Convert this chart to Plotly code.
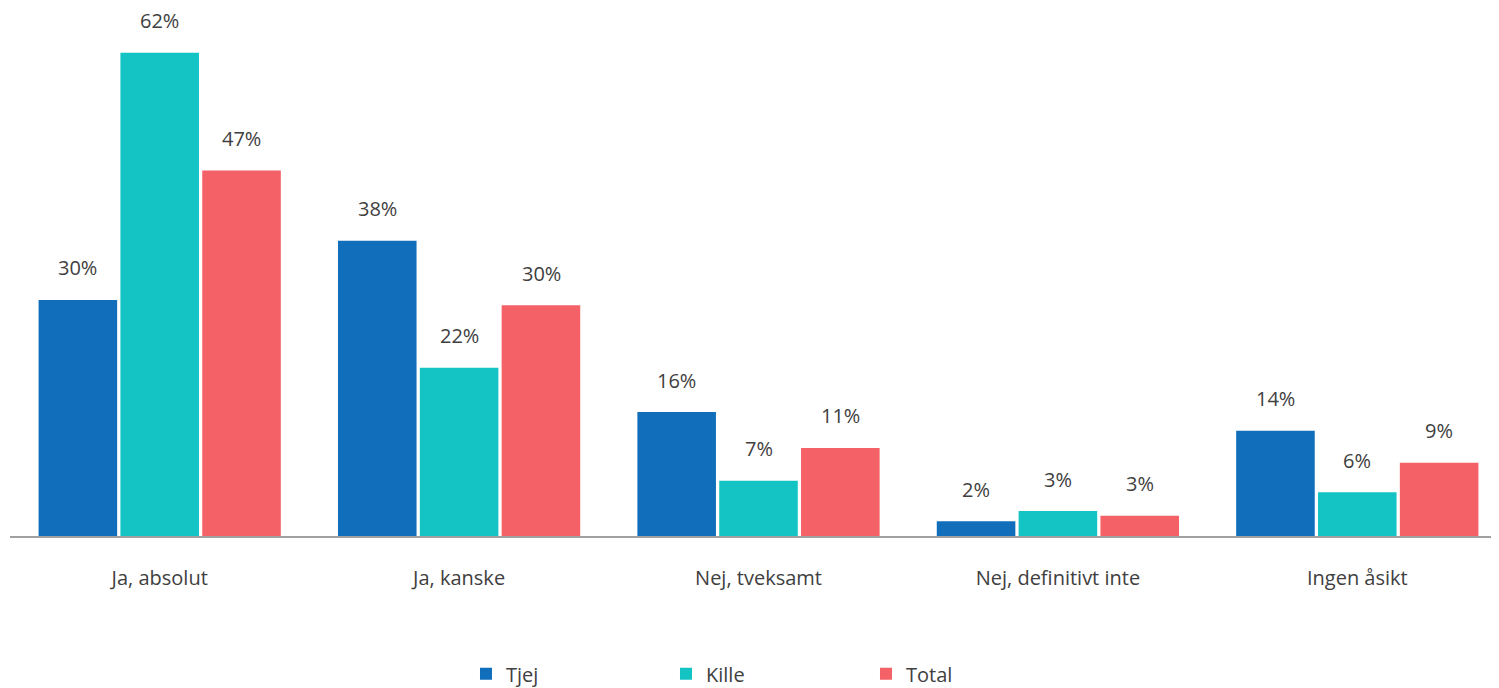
import plotly.graph_objects as go

categories = ["Ja, absolut", "Ja, kanske", "Nej, tveksamt", "Nej, definitivt inte", "Ingen åsikt"]
tjej = [30.3, 37.9, 15.9, 1.9, 13.5]
kille = [62.0, 21.6, 7.1, 3.2, 5.6]
total = [46.9, 29.6, 11.3, 2.6, 9.4]
series_names = ["Tjej", "Kille", "Total"]
colors = ["#106EBA", "#14C4C4", "#F46166"]

font_family = "Open Sans, Liberation Sans, sans-serif"
text_color = "#404040"

fig = go.Figure()
all_series = [tjej, kille, total]
for name, vals, col in zip(series_names, all_series, colors):
    fig.add_trace(go.Bar(
        x=categories, y=vals, name=name, marker=dict(color=col, line=dict(width=0)),
        hoverinfo="skip",
    ))

offsets = [-82, 0, 82]
annotations = []
for vals, off in zip(all_series, offsets):
    for c, v in zip(categories, vals):
        annotations.append(dict(
            x=c, y=v, xref="x", yref="y", text=f"{round(v):.0f}%",
            showarrow=False, xshift=off, yshift=32, yanchor="middle",
            font=dict(size=20, color=text_color, family=font_family),
        ))

fig.update_layout(
    width=1499, height=688,
    margin=dict(l=2, r=0, t=2, b=160),
    plot_bgcolor="white", paper_bgcolor="white",
    barmode="group", bargap=0.18, bargroupgap=0.04,
    font=dict(family=font_family, size=20, color=text_color),
    annotations=annotations,
    legend=dict(
        orientation="h", x=0.505, xanchor="center", y=-0.262, yanchor="middle",
        entrywidth=155, entrywidthmode="pixels",
        font=dict(size=20, color=text_color), itemsizing="constant",
    ),
    showlegend=True,
)
fig.update_xaxes(
    range=[-0.5, 4.5], showline=True, linecolor="#A0A0A0", linewidth=2,
    ticks="", showgrid=False, ticklabelstandoff=23,
    tickfont=dict(size=20, color=text_color),
)
fig.update_yaxes(range=[0, 67.5], visible=False, showgrid=False, zeroline=False)

fig.write_html("out.html")
